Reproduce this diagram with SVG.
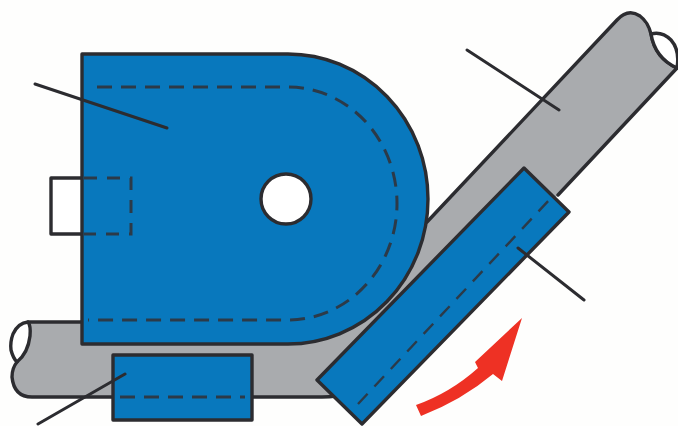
<svg xmlns="http://www.w3.org/2000/svg" width="678" height="426" viewBox="0 0 678 426">
<style>
.o{stroke:#2c2c30;stroke-width:3.4;stroke-linejoin:round;stroke-linecap:round}
.b{fill:#0878bd}
.g{fill:#a9abae}
.w{fill:#fff}
.n{fill:none}
.d{fill:none;stroke:#2c3a48;stroke-width:3;stroke-dasharray:15 9}
.t{fill:none;stroke:#2c3a48;stroke-width:2.4;stroke-dasharray:14 10}
.l{fill:none;stroke:#2c2c30;stroke-width:3;stroke-linecap:round}
</style>
<rect width="678" height="426" fill="#fefefd"/>
<g id="tube">
<path class="g" d="M28 322H90V345H300L427 222L617 20Q628 8 640 16L651 34L678 68L558 195L400 340L335 397H32Q13 397 12 377Q12 368 17 362Q30 350 31 335Q31 326 28 322Z"/>
<path class="o w" d="M28 322Q18 323 13 334Q10 342 11 350Q13 358 17 362Q28 353 30 336Q31 326 28 322Z"/>
<path class="o n" d="M82 322H28"/>
<path class="o n" d="M17 362Q12 368 12 377Q14 397 32 397H113M252 397H322Q330 397 336 396"/>
<path class="o n" d="M427 222L617 20Q628 8 640 16Q648 22 651 34Q655 58 677 68L558 195"/>
<path class="o w" d="M651 34Q662 31 671 40Q680 50 677 68Q655 58 651 34Z"/>
</g>
<g id="notch">
<path class="o w" d="M82 178H51V234H82"/>
</g>
<g id="former">
<path class="o b" d="M82 54H288A140 145 0 0 1 288 344H82Z"/>
<path class="d" d="M97 87H288A109 116.500 0 0 1 288 320H88"/>
<path class="d" style="stroke-dasharray:13 10" d="M84 178H131V234H84"/>
<circle class="o w" cx="286" cy="199" r="25"/>
</g>
<g id="clamp">
<rect class="o b" x="113" y="355" width="139" height="65"/>
<path class="d" d="M120 397H245"/>
</g>
<g id="pressure-die">
<path class="o b" d="M524 168L569 212L362 424L317 380Z"/>
<path class="t" d="M358 404L551 198"/>
</g>
<g id="arrow">
<path fill="#ee3124" d="M416 405Q450 393 478 368L475 362L522 318L502 381L493 374Q462 400 421 416Z"/>
</g>
<g id="connectors">
<path class="l" d="M35 84L167 128"/>
<path class="l" d="M467 50L559 110"/>
<path class="l" d="M518 248L584 300"/>
<path class="l" d="M38 424L125 374"/>
</g>
</svg>
